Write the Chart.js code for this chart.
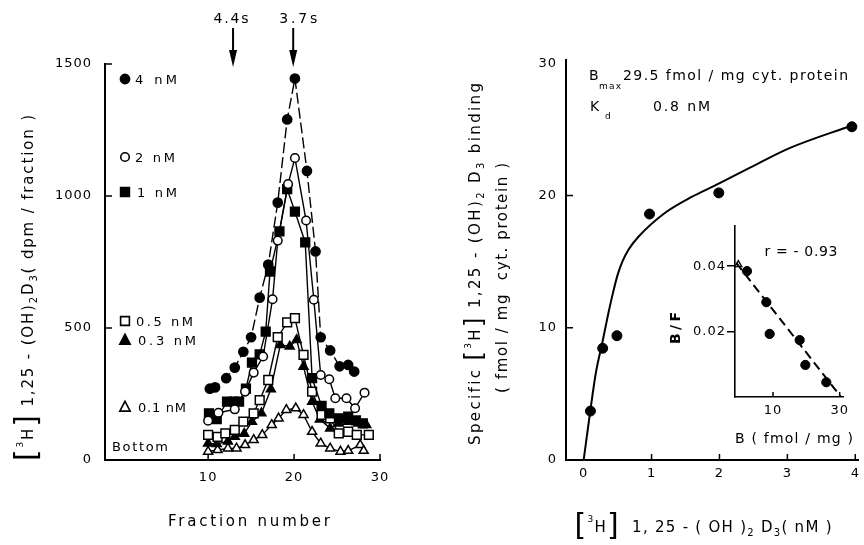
<!DOCTYPE html>
<html><head><meta charset="utf-8">
<script src="https://cdn.jsdelivr.net/npm/chart.js@4.4.1/dist/chart.umd.min.js"></script>
<style>
html,body{margin:0;padding:0;background:#fff;width:864px;height:545px;overflow:hidden}
.c{position:absolute}
</style></head><body>
<div class="c" style="left:0;top:0;width:430px;height:545px"><canvas id="left"></canvas></div>
<div class="c" style="left:430px;top:0;width:434px;height:545px"><canvas id="right"></canvas></div>
<div class="c" style="left:640px;top:215px;width:224px;height:240px"><canvas id="inset"></canvas></div>
<script>
const FONT = "'DejaVu Sans', sans-serif";

// ---------- left panel: sucrose gradient profiles ----------
const fractionTicks = [10, 20, 30];
const dpmTicks = [0, 500, 1000, 1500];
const seriesLabels = ['4 nM', '2 nM', '1 nM', '0.5 nM', '0.3 nM', '0.1 nM'];
const sedimentLabels = ['4.4s', '3.7s'];
const sedimentFractions = [12.9, 19.9];

const frac4nM = [10.2,10.8,12.1,13.1,14.1,15.0,16.0,17.0,18.1,19.2,20.1,21.5,22.5,23.1,24.2,25.3,26.3,27.0];
const dpm4nM  = [270,275,310,350,410,465,615,740,975,1290,1445,1095,790,465,415,355,360,335];

const frac2nM = [10.0,11.2,13.1,14.3,15.3,16.4,17.5,18.1,19.3,20.1,21.4,22.3,23.1,24.1,24.8,26.1,27.1,28.2];
const dpm2nM  = [149,179,192,259,331,392,609,831,1045,1144,907,607,322,306,234,234,196,255];

const frac1nM = [10.1,11.0,12.2,13.0,13.6,14.4,15.1,16.0,16.7,17.2,18.3,19.2,20.1,21.3,22.1,23.2,24.1,25.3,26.3,27.2,28.0];
const dpm1nM  = [177,155,221,221,221,270,369,400,486,714,866,1026,941,824,310,205,177,158,164,150,139];

const frac05nM = [10.0,11.1,12.0,13.1,14.1,15.3,16.0,17.0,18.1,19.2,20.1,21.1,22.1,23.2,24.2,25.2,26.3,27.3,28.7];
const dpm05nM  = [95,88,101,114,145,177,227,303,465,521,537,398,259,171,158,101,107,95,95];

const frac03nM = [10.0,11.0,12.3,13.1,14.2,15.1,16.2,17.3,18.4,19.5,20.3,21.1,22.1,23.0,24.2,25.2,26.3,27.5,28.4];
const dpm03nM  = [63,61,70,88,100,145,177,268,436,430,455,354,221,154,120,139,145,139,133];

const frac01nM = [10.0,11.1,12.3,13.3,14.3,15.3,16.3,17.4,18.2,19.1,20.2,21.1,22.1,23.1,24.2,25.4,26.3,27.7,28.1];
const dpm01nM  = [32,38,44,44,57,76,95,133,158,190,196,171,107,63,44,32,35,57,35];

// ---------- right panel: saturation ----------
const concTicks = [0, 1, 2, 3, 4];
const bindingTicks = [0, 10, 20, 30];
const concNM = [0.10, 0.28, 0.49, 0.97, 1.99, 3.95];
const bindingFmol = [3.7, 8.45, 9.4, 18.6, 20.2, 25.2];
const curveConc = [0, 0.10, 0.18, 0.28, 0.36, 0.43, 0.50, 0.57, 0.66, 0.81, 1.20, 1.59, 1.95, 2.56, 3.04, 3.95];
const curveBinding = [0, 3.8, 6.6, 9.0, 11.0, 12.6, 14.0, 15.0, 15.9, 16.9, 18.7, 19.9, 20.8, 22.4, 23.6, 25.3];

// ---------- inset: Scatchard ----------
const insetBTicks = [10, 30];
const insetBFTicks = [0.02, 0.04];
const scatB  = [2.2, 8.0, 9.0, 18.0, 19.7, 26.0];
const scatBF = [0.0385, 0.029, 0.0193, 0.0174, 0.0098, 0.0045];
const regB  = [-1.0, 30.4];
const regBF = [0.041, 0.0];
const regStartB = [-0.4];
const regStartBF = [0.0405];

const pts = (xs, ys) => xs.map((x, i) => ({x, y: ys[i]}));

// ---------- helpers ----------
function richText(ctx, segs, x, y, o) {
  ctx.save();
  ctx.fillStyle = '#000';
  ctx.textBaseline = 'alphabetic';
  ctx.textAlign = 'left';
  const hasLS = ('letterSpacing' in ctx);
  if (hasLS) ctx.letterSpacing = '0px';
  let natural = 0, n = 0;
  const ws = segs.map(s => {
    ctx.font = `${s.b || 'normal'} ${s.s}px ${FONT}`;
    const w = ctx.measureText(s.t).width;
    natural += w; n += s.t.length; return w;
  });
  let sp = 0;
  if (o.w && n > 1 && hasLS) sp = (o.w - natural) / (n - 1);
  const total = natural + sp * (n - 1);
  ctx.translate(x, y);
  if (o.angle) ctx.rotate(o.angle);
  let cx = o.align === 'left' ? 0 : (o.align === 'right' ? -total : -total / 2);
  const base = o.base || 0;
  segs.forEach((s, i) => {
    ctx.font = `${s.b || 'normal'} ${s.s}px ${FONT}`;
    if (hasLS) ctx.letterSpacing = sp + 'px';
    ctx.fillText(s.t, cx, base + (s.dy || 0));
    cx += ws[i] + sp * s.t.length;
  });
  ctx.restore();
}

function marker(ctx, style, filled, x, y, r) {
  ctx.save();
  ctx.beginPath();
  if (style === 'circle') ctx.arc(x, y, r, 0, Math.PI * 2);
  else if (style === 'rect') ctx.rect(x - r, y - r, 2 * r, 2 * r);
  else { ctx.moveTo(x, y - r * 1.1); ctx.lineTo(x + r, y + r * 0.8); ctx.lineTo(x - r, y + r * 0.8); ctx.closePath(); }
  ctx.fillStyle = filled ? '#000' : '#fff';
  ctx.fill();
  ctx.lineWidth = 1.6; ctx.strokeStyle = '#000'; ctx.stroke();
  ctx.restore();
}

function inwardTicks(ctx, scale, values, len, vertical) {
  ctx.save(); ctx.strokeStyle = '#000'; ctx.lineWidth = 1.5;
  values.forEach(v => {
    const p = scale.getPixelForValue(v);
    ctx.beginPath();
    if (vertical) { ctx.moveTo(scale.right, p); ctx.lineTo(scale.right + len, p); }
    else { ctx.moveTo(p, scale.top); ctx.lineTo(p, scale.top - len); }
    ctx.stroke();
  });
  ctx.restore();
}

const spacingPlugin = { id: 'spacing', beforeDraw(chart) { if ('letterSpacing' in chart.ctx) chart.ctx.letterSpacing = '1px'; } };

function axisCommon(extra) {
  return Object.assign({
    type: 'linear',
    grid: { display: false, drawTicks: false },
    border: { display: true, color: '#000', width: 2 },
    ticks: { color: '#000', font: { family: FONT, size: 13 }, maxRotation: 0, autoSkip: false }
  }, extra);
}

// ---------- left chart ----------
const leftStyles = [
  { ps: 'circle', filled: true,  r: 4.6, dash: [11, 4] },
  { ps: 'circle', filled: false, r: 4.3, dash: [] },
  { ps: 'rect',   filled: true,  r: 6.2, dash: [] },
  { ps: 'rect',   filled: false, r: 6.2, dash: [] },
  { ps: 'triangle', filled: true,  r: 5.2, dash: [] },
  { ps: 'triangle', filled: false, r: 5.2, dash: [] }
];
const leftData = [
  pts(frac4nM, dpm4nM), pts(frac2nM, dpm2nM), pts(frac1nM, dpm1nM),
  pts(frac05nM, dpm05nM), pts(frac03nM, dpm03nM), pts(frac01nM, dpm01nM)
];

const leftDecor = {
  id: 'leftDecor',
  afterDraw(chart) {
    const ctx = chart.ctx, xs = chart.scales.x, ys = chart.scales.y;
    inwardTicks(ctx, ys, [500, 1000, 1500], 7, true);
    inwardTicks(ctx, xs, fractionTicks, 6, false);
    sedimentFractions.forEach((f, i) => {
      const x = xs.getPixelForValue(f);
      ctx.save(); ctx.strokeStyle = '#000'; ctx.fillStyle = '#000'; ctx.lineWidth = 2;
      ctx.beginPath(); ctx.moveTo(x, 28); ctx.lineTo(x, 54); ctx.stroke();
      ctx.beginPath(); ctx.moveTo(x - 4, 50); ctx.lineTo(x + 4, 50); ctx.lineTo(x, 67); ctx.closePath(); ctx.fill();
      ctx.restore();
      richText(ctx, [{ t: sedimentLabels[i], s: 14 }], x + (i === 0 ? -2 : 5), 18, { w: i === 0 ? 35 : 38, base: 5 });
    });
    const L = chart.chartArea.left;
    const items = [
      { y: 79,  tx: 135, w: 42 }, { y: 157, tx: 135, w: 40 }, { y: 192, tx: 137, w: 40 },
      { y: 321, tx: 136, w: 57 }, { y: 340, tx: 138, w: 58 }, { y: 407, tx: 138, w: 48 }
    ];
    items.forEach((it, i) => {
      const st = leftStyles[i];
      marker(ctx, st.ps, st.filled, L + 20, it.y, st.ps === 'rect' ? 4.4 : st.r);
      richText(ctx, [{ t: seriesLabels[i], s: 13 }], it.tx, it.y, { w: it.w, align: 'left', base: 5 });
    });
    richText(ctx, [{ t: 'Bottom', s: 13 }], 112, 446, { w: 56, align: 'left', base: 5 });
    richText(ctx, [{ t: 'Fraction number', s: 15 }], 249, 521, { w: 162, base: 5 });
    richText(ctx, [
      { t: '[', s: 30, dy: 3 }, { t: '3', s: 9, dy: -10 }, { t: 'H', s: 15 }, { t: ']', s: 30, dy: 3 },
      { t: ' 1,25 - (OH)', s: 15 }, { t: '2', s: 10, dy: 4 }, { t: 'D', s: 15 }, { t: '3', s: 10, dy: 4 },
      { t: '( dpm / fraction )', s: 15 }
    ], 28, 288, { w: 346, angle: -Math.PI / 2, base: 5 });
  }
};

new Chart(document.getElementById('left'), {
  type: 'scatter',
  data: {
    datasets: leftData.map((d, i) => ({
      label: seriesLabels[i], data: d, showLine: true,
      borderColor: '#000', borderWidth: 1.4, borderDash: leftStyles[i].dash,
      pointStyle: leftStyles[i].ps, pointRadius: leftStyles[i].r,
      pointBackgroundColor: leftStyles[i].filled ? '#000' : '#fff',
      pointBorderColor: '#000', pointBorderWidth: 1.5, tension: 0
    }))
  },
  options: {
    responsive: true, maintainAspectRatio: false, animation: false,
    layout: { padding: { top: 64, right: 50, left: 0, bottom: 0 } },
    plugins: { legend: { display: false }, tooltip: { enabled: false } },
    scales: {
      x: axisCommon({
        min: -2, max: 30,
        afterBuildTicks: s => { s.ticks = fractionTicks.map(v => ({ value: v })); },
        afterFit: s => { s.height = 85; s.paddingLeft = 0; s.paddingRight = 0; },
        ticks: { color: '#000', font: { family: FONT, size: 13 }, padding: 10, maxRotation: 0, autoSkip: false,
                 callback: v => String(v) }
      }),
      y: axisCommon({
        min: 0, max: 1500,
        afterBuildTicks: s => { s.ticks = dpmTicks.map(v => ({ value: v })); },
        afterFit: s => { s.width = 105; s.paddingTop = 0; s.paddingBottom = 0; },
        ticks: { color: '#000', font: { family: FONT, size: 13 }, padding: 13, autoSkip: false,
                 callback: v => String(v) }
      })
    }
  },
  plugins: [spacingPlugin, leftDecor]
});

// ---------- right chart ----------
const OX = 430;
const rightDecor = {
  id: 'rightDecor',
  afterDraw(chart) {
    const ctx = chart.ctx, xs = chart.scales.x, ys = chart.scales.y;
    inwardTicks(ctx, ys, [10, 20], 7, true);
    inwardTicks(ctx, xs, [1, 2, 3, 4], 6, false);
    richText(ctx, [{ t: 'B', s: 14 }], 589 - OX, 75, { align: 'left', base: 5 });
    richText(ctx, [{ t: 'max', s: 9 }], 599 - OX, 86, { align: 'left', w: 22, base: 3 });
    richText(ctx, [{ t: '29.5 fmol / mg cyt. protein', s: 14 }], 623 - OX, 75, { align: 'left', w: 225, base: 5 });
    richText(ctx, [{ t: 'K', s: 14 }], 590 - OX, 106, { align: 'left', base: 5 });
    richText(ctx, [{ t: 'd', s: 9 }], 605 - OX, 116, { align: 'left', base: 3 });
    richText(ctx, [{ t: '0.8 nM', s: 14 }], 653 - OX, 106, { align: 'left', w: 57, base: 5 });
    richText(ctx, [
      { t: 'Specific ', s: 15 }, { t: '[', s: 24, dy: 2 }, { t: '3', s: 9, dy: -9 }, { t: 'H', s: 15 }, { t: ']', s: 24, dy: 2 },
      { t: ' 1,25 - (OH)', s: 15 }, { t: '2', s: 10, dy: 4 }, { t: ' D', s: 15 }, { t: '3', s: 10, dy: 4 }, { t: ' binding', s: 15 }
    ], 475 - OX, 264, { w: 362, angle: -Math.PI / 2, base: 5 });
    richText(ctx, [{ t: '( fmol / mg  cyt. protein )', s: 15 }], 502 - OX, 278, { w: 230, angle: -Math.PI / 2, base: 5 });
    richText(ctx, [
      { t: '[', s: 30, dy: 3 }, { t: '3', s: 9, dy: -10 }, { t: 'H', s: 15 }, { t: ']', s: 30, dy: 3 },
      { t: '  1, 25 - ( OH )', s: 15 }, { t: '2', s: 10, dy: 4 }, { t: ' D', s: 15 }, { t: '3', s: 10, dy: 4 },
      { t: '( nM )', s: 15 }
    ], 703 - OX, 527, { w: 257, base: 5 });
  }
};

new Chart(document.getElementById('right'), {
  type: 'scatter',
  data: {
    datasets: [
      { label: 'fit', data: pts(curveConc, curveBinding), showLine: true, borderColor: '#000', borderWidth: 2,
        pointRadius: 0, cubicInterpolationMode: 'monotone' },
      { label: 'bound', data: pts(concNM, bindingFmol), showLine: false, pointRadius: 5,
        pointBackgroundColor: '#000', pointBorderColor: '#000', pointBorderWidth: 1 }
    ]
  },
  options: {
    responsive: true, maintainAspectRatio: false, animation: false,
    layout: { padding: { top: 60, right: 2, left: 0, bottom: 0 } },
    plugins: { legend: { display: false }, tooltip: { enabled: false } },
    scales: {
      x: axisCommon({
        min: -0.26, max: 4.04,
        afterBuildTicks: s => { s.ticks = concTicks.map(v => ({ value: v })); },
        afterFit: s => { s.height = 85; s.paddingLeft = 0; s.paddingRight = 0; },
        ticks: { color: '#000', font: { family: FONT, size: 13 }, padding: 6, maxRotation: 0, autoSkip: false,
                 callback: v => String(v) }
      }),
      y: axisCommon({
        min: 0, max: 30.25,
        afterBuildTicks: s => { s.ticks = bindingTicks.map(v => ({ value: v })); },
        afterFit: s => { s.width = 136; s.paddingTop = 0; s.paddingBottom = 0; },
        ticks: { color: '#000', font: { family: FONT, size: 13 }, padding: 9, autoSkip: false,
                 callback: v => String(v) }
      })
    }
  },
  plugins: [spacingPlugin, rightDecor]
});

// ---------- inset ----------
const IX = 640, IY = 215;
const insetDecor = {
  id: 'insetDecor',
  afterDraw(chart) {
    const ctx = chart.ctx;
    inwardTicks(ctx, chart.scales.x, insetBTicks, 5, false);
    richText(ctx, [{ t: 'r = - 0.93', s: 14 }], 801 - IX, 251 - IY, { w: 73, base: 5 });
    richText(ctx, [{ t: 'B / F', s: 14, b: 'bold' }], 675 - IX, 328 - IY, { w: 32, angle: -Math.PI / 2, base: 5 });
    richText(ctx, [{ t: 'B ( fmol / mg )', s: 14 }], 794 - IX, 438 - IY, { w: 118, base: 5 });
  }
};

new Chart(document.getElementById('inset'), {
  type: 'scatter',
  data: {
    datasets: [
      { label: 'regression', data: pts(regB, regBF), showLine: true, borderColor: '#000', borderWidth: 2,
        borderDash: [9, 5], pointRadius: 0 },
      { label: 'start', data: pts(regStartB, regStartBF), showLine: false, pointStyle: 'triangle', pointRadius: 4,
        pointBackgroundColor: '#fff', pointBorderColor: '#000', pointBorderWidth: 1.3 },
      { label: 'scatchard', data: pts(scatB, scatBF), showLine: false, pointRadius: 4.6,
        pointBackgroundColor: '#000', pointBorderColor: '#000' }
    ]
  },
  options: {
    responsive: true, maintainAspectRatio: false, animation: false,
    layout: { padding: { top: 11, right: 21, left: 0, bottom: 0 } },
    plugins: { legend: { display: false }, tooltip: { enabled: false } },
    scales: {
      x: {
        type: 'linear', min: -1.4, max: 31,
        afterBuildTicks: s => { s.ticks = insetBTicks.map(v => ({ value: v })); },
        afterFit: s => { s.height = 58; s.paddingLeft = 0; s.paddingRight = 0; },
        grid: { display: false, drawTicks: false },
        border: { display: true, color: '#000', width: 1.6 },
        ticks: { color: '#000', font: { family: FONT, size: 13 }, padding: 6, maxRotation: 0, autoSkip: false,
                 callback: v => String(v) }
      },
      y: {
        type: 'linear', min: 0, max: 0.0523,
        afterBuildTicks: s => { s.ticks = insetBFTicks.map(v => ({ value: v })); },
        afterFit: s => { s.width = 95; s.paddingTop = 0; s.paddingBottom = 0; },
        grid: { display: true, drawOnChartArea: false, drawTicks: true, tickLength: 8, color: '#000', lineWidth: 1.5 },
        border: { display: true, color: '#000', width: 1.6 },
        ticks: { color: '#000', font: { family: FONT, size: 13 }, padding: 1, autoSkip: false,
                 callback: v => v.toFixed(2) }
      }
    }
  },
  plugins: [spacingPlugin, insetDecor]
});
</script>
</body></html>
